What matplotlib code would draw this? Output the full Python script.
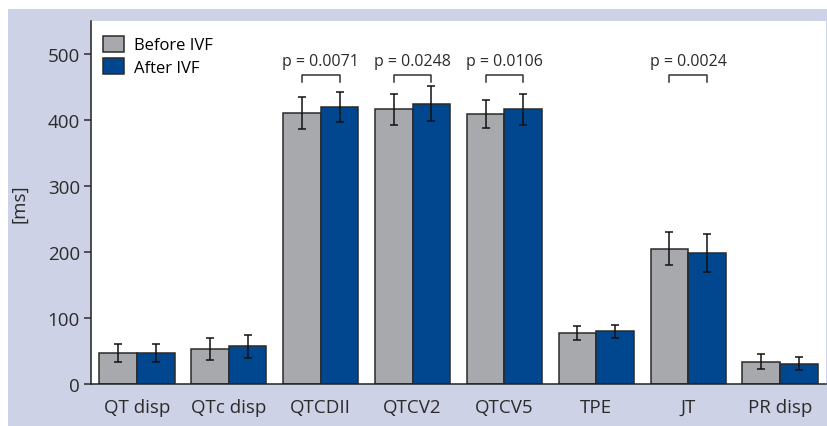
import matplotlib
matplotlib.use('Agg')
import matplotlib.pyplot as plt
import numpy as np
from matplotlib.patches import Rectangle

plt.rcParams['font.family'] = ['Open Sans', 'DejaVu Sans']

categories = ['QT disp', 'QTc disp', 'QTCDII', 'QTCV2', 'QTCV5', 'TPE', 'JT', 'PR disp']
before = [47, 53, 411, 416, 409, 77, 205, 34]
before_err = [14, 17, 24, 23, 21, 11, 25, 12]
after = [47, 57, 420, 425, 416, 80, 198, 31]
after_err = [14, 17, 23, 26, 24, 10, 29, 10]
# p-values shown above brackets (category index -> label)
pvals = {2: 'p = 0.0071', 3: 'p = 0.0248', 4: 'p = 0.0106', 6: 'p = 0.0024'}

gray = '#a8a9ac'
blue = '#00478f'
lavender = '#cdd2e6'
edge = '#2a2a2a'
txtcol = '#2b2b2b'

fig = plt.figure(figsize=(8.28, 4.27), dpi=100)
fig.patch.set_facecolor('white')
# lavender panel behind the plot
fig.patches.append(Rectangle((8 / 828, 0), 1, 417 / 427, transform=fig.transFigure,
                             facecolor=lavender, edgecolor='none', zorder=-5))

ax = fig.add_axes([91 / 828, 42 / 427, 735 / 828, 363 / 427])
ax.set_facecolor('white')

x = np.arange(len(categories))
w = 0.41
ax.bar(x - w / 2, before, w, color=gray, edgecolor=edge, linewidth=1.1, label='Before IVF', zorder=2)
ax.bar(x + w / 2, after, w, color=blue, edgecolor=edge, linewidth=1.1, label='After IVF', zorder=2)
ax.errorbar(x - w / 2, before, yerr=before_err, fmt='none', ecolor='#111111',
            elinewidth=1.1, capsize=2.8, capthick=1.1, zorder=3)
ax.errorbar(x + w / 2, after, yerr=after_err, fmt='none', ecolor='#111111',
            elinewidth=1.1, capsize=2.8, capthick=1.1, zorder=3)

# significance brackets
for i, txt in pvals.items():
    ax.plot([i - w / 2, i - w / 2, i + w / 2, i + w / 2], [457, 468.5, 468.5, 457],
            color='#333333', lw=1.1, zorder=3)
    ax.text(i, 477, txt, ha='center', va='bottom', fontsize=11.5, color=txtcol)

ax.set_xlim(-0.5, 7.5)
ax.set_ylim(0, 550)
ax.set_yticks([0, 100, 200, 300, 400, 500])
ax.set_xticks(x)
ax.set_xticklabels(categories)
ax.tick_params(axis='x', length=0, pad=10, labelsize=13.5, colors=txtcol)
ax.tick_params(axis='y', length=5, width=1.1, direction='out', pad=3, labelsize=13.5, colors=txtcol)
for s in ['top', 'right']:
    ax.spines[s].set_visible(False)
for s in ['left', 'bottom']:
    ax.spines[s].set_linewidth(1.1)
    ax.spines[s].set_color('#222222')

ax.set_ylabel('[ms]', fontsize=13.5, color=txtcol)
ax.yaxis.set_label_coords(-0.085, 0.5)

ax.legend(loc='upper left', bbox_to_anchor=(0.016, 0.96), frameon=False, fontsize=12,
          handlelength=1.25, handleheight=1.1, handletextpad=0.6, labelspacing=0.3,
          borderpad=0, borderaxespad=0)

fig.savefig('out.png', dpi=100, facecolor=fig.get_facecolor())
